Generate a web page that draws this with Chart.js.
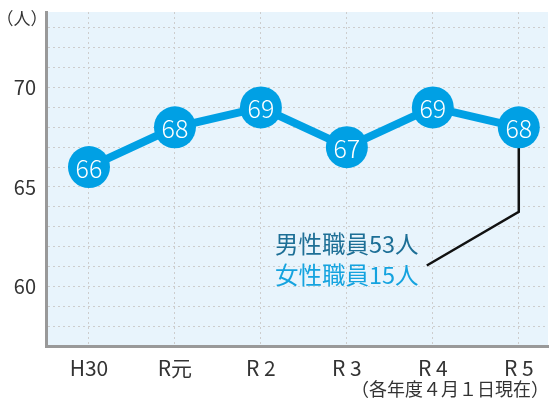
<!DOCTYPE html>
<html>
<head>
<meta charset="utf-8">
<script src="https://cdn.jsdelivr.net/npm/chart.js@4/dist/chart.umd.min.js"></script>
<style>
  body { margin: 0; background: #fff; }
  #wrap { width: 557px; height: 405px; }
</style>
</head>
<body>
<div id="wrap"><canvas id="staffChart" width="557" height="405"></canvas></div>
<script>
const years = ['H30', 'R元', 'R 2', 'R 3', 'R 4', 'R 5'];
const staff = [66, 68, 69, 67, 69, 68];
const yLabels = [60, 65, 70];
// leader line from the R5 point to the breakdown note
const leader = [{x: 5, y: 68}, {x: 5, y: 63.75}, {x: 3.93, y: 61.05}];
const noteMale = '男性職員53人';
const noteFemale = '女性職員15人';
const unitText = '（人）';
const footText = '（各年度４月１日現在）';

const font = '"Noto Sans CJK JP", "Noto Sans", sans-serif';
const blue = '#00a0e4';

const plotBg = {
    id: 'plotBg',
    beforeDraw(chart) {
        const {ctx, chartArea: a} = chart;
        ctx.save();
        ctx.fillStyle = '#e8f4fc';
        ctx.fillRect(a.left, a.top, a.right - a.left, a.bottom - a.top);
        ctx.restore();
    }
};

const extraText = {
    id: 'extraText',
    afterDraw(chart) {
        const ctx = chart.ctx;
        ctx.save();
        // values in circles
        const meta = chart.getDatasetMeta(1);
        ctx.fillStyle = '#fff';
        ctx.font = '300 25px ' + font;
        ctx.textAlign = 'center';
        ctx.textBaseline = 'middle';
        meta.data.forEach((pt, i) => {
            ctx.fillText(staff[i], pt.x, pt.y + 1);
        });
        // unit + footnote
        ctx.fillStyle = '#333';
        ctx.font = '17px ' + font;
        ctx.fillText(unitText, 22, 19);
        ctx.textAlign = 'right';
        ctx.font = '18px ' + font;
        ctx.fillText(footText, 549, 389);
        // breakdown note
        ctx.textAlign = 'left';
        ctx.font = '23.5px ' + font;
        ctx.fillStyle = '#1d6f96';
        ctx.fillText(noteMale, 275, 244);
        ctx.fillStyle = '#14a3df';
        ctx.fillText(noteFemale, 275, 275);
        ctx.restore();
    }
};

new Chart(document.getElementById('staffChart'), {
    type: 'line',
    data: {
        datasets: [{
            data: leader,
            borderColor: '#111',
            borderWidth: 2.5,
            pointRadius: 0,
            order: 2
        }, {
            data: staff.map((v, i) => ({x: i, y: v})),
            borderColor: blue,
            borderWidth: 8,
            pointRadius: 21,
            pointBackgroundColor: blue,
            pointBorderWidth: 0,
            tension: 0,
            clip: false,
            order: 1
        }]
    },
    options: {
        responsive: false,
        animation: false,
        layout: { autoPadding: false, padding: { top: 12, right: 9, left: 0, bottom: 0 } },
        plugins: { legend: { display: false }, tooltip: { enabled: false } },
        scales: {
            x: {
                type: 'linear',
                min: -0.5,
                max: 5.34,
                afterBuildTicks: s => { s.ticks = years.map((_, i) => ({value: i})); },
                afterFit: s => { s.height = 59; s.paddingLeft = 0; s.paddingRight = 0; },
                grid: { color: '#cdcdcd', drawTicks: false },
                border: { color: '#999', width: 3, dash: [2, 3] },
                ticks: {
                    autoSkip: false,
                    maxRotation: 0,
                    padding: 9,
                    color: '#333',
                    font: { family: font, size: 21 },
                    callback: v => years[v]
                }
            },
            y: {
                min: 57,
                max: 73.8,
                afterBuildTicks: s => {
                    const t = [];
                    for (let v = 57; v <= 73; v++) t.push({value: v});
                    s.ticks = t;
                },
                afterFit: s => { s.width = 46; s.paddingTop = 0; s.paddingBottom = 0; },
                grid: { color: '#cdcdcd', drawTicks: false },
                border: { color: '#999', width: 3, dash: [2, 3] },
                ticks: {
                    autoSkip: false,
                    padding: 10,
                    color: '#333',
                    font: { family: font, size: 20 },
                    callback: v => yLabels.includes(v) ? v : ''
                }
            }
        }
    },
    plugins: [plotBg, extraText]
});
</script>
</body>
</html>
